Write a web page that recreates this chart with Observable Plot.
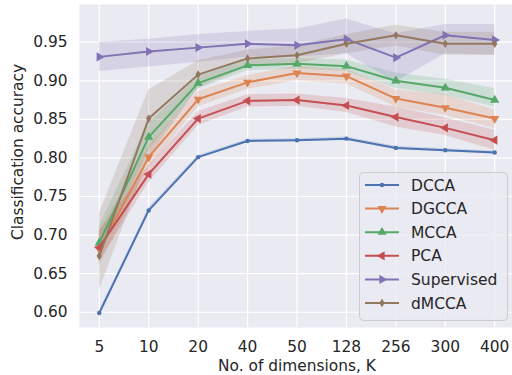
<!DOCTYPE html>
<html>
<head>
<meta charset="utf-8">
<script src="https://cdn.jsdelivr.net/npm/d3@7"></script>
<script src="https://cdn.jsdelivr.net/npm/@observablehq/plot@0.6"></script>
<style>
  html, body { margin: 0; padding: 0; background: #ffffff; }
  #chart { width: 512px; height: 375px; }
</style>
</head>
<body>
<div id="chart"></div>
<script>
// ---- Data ----
const dims = ["5", "10", "20", "40", "50", "128", "256", "300", "400"];
const methods = ["DCCA", "DGCCA", "MCCA", "PCA", "Supervised", "dMCCA"];
const colors = ["#4c72b0", "#dd8452", "#55a868", "#c44e52", "#8172b3", "#937860"];

const dcca       = [0.599, 0.732, 0.801, 0.822, 0.823, 0.825, 0.813, 0.810, 0.807];
const dccaLo     = [0.597, 0.729, 0.799, 0.820, 0.821, 0.823, 0.811, 0.808, 0.805];
const dccaHi     = [0.601, 0.735, 0.803, 0.824, 0.825, 0.827, 0.815, 0.812, 0.809];

const dgcca      = [0.682, 0.801, 0.876, 0.898, 0.910, 0.906, 0.877, 0.865, 0.851];
const dgccaLo    = [0.660, 0.787, 0.866, 0.889, 0.900, 0.896, 0.866, 0.855, 0.838];
const dgccaHi    = [0.705, 0.815, 0.886, 0.907, 0.919, 0.915, 0.888, 0.882, 0.862];

const mcca       = [0.690, 0.827, 0.897, 0.920, 0.922, 0.919, 0.900, 0.891, 0.875];
const mccaLo     = [0.672, 0.810, 0.889, 0.913, 0.915, 0.912, 0.890, 0.881, 0.866];
const mccaHi     = [0.712, 0.845, 0.905, 0.927, 0.929, 0.927, 0.910, 0.902, 0.890];

const pca        = [0.684, 0.779, 0.851, 0.874, 0.875, 0.868, 0.853, 0.839, 0.823];
const pcaLo      = [0.665, 0.768, 0.842, 0.866, 0.867, 0.859, 0.840, 0.829, 0.810];
const pcaHi      = [0.705, 0.790, 0.860, 0.882, 0.883, 0.877, 0.866, 0.852, 0.836];

const supervised   = [0.931, 0.938, 0.943, 0.948, 0.946, 0.954, 0.930, 0.959, 0.953];
const supervisedLo = [0.912, 0.918, 0.924, 0.931, 0.931, 0.935, 0.898, 0.935, 0.933];
const supervisedHi = [0.950, 0.954, 0.960, 0.964, 0.967, 0.980, 0.961, 0.973, 0.973];

const dmcca      = [0.673, 0.851, 0.908, 0.929, 0.933, 0.948, 0.959, 0.948, 0.948];
const dmccaLo    = [0.628, 0.800, 0.890, 0.918, 0.922, 0.935, 0.945, 0.933, 0.933];
const dmccaHi    = [0.728, 0.888, 0.926, 0.940, 0.945, 0.960, 0.972, 0.963, 0.963];

const yTicks = [0.60, 0.65, 0.70, 0.75, 0.80, 0.85, 0.90, 0.95];

// ---- Build table ----
const seriesVals = [dcca, dgcca, mcca, pca, supervised, dmcca];
const seriesLo = [dccaLo, dgccaLo, mccaLo, pcaLo, supervisedLo, dmccaLo];
const seriesHi = [dccaHi, dgccaHi, mccaHi, pcaHi, supervisedHi, dmccaHi];
const rows = [];
methods.forEach((m, k) => {
  dims.forEach((d, i) => {
    rows.push({method: m, i, v: seriesVals[k][i], lo: seriesLo[k][i], hi: seriesHi[k][i]});
  });
});

// thin diamond symbol (matplotlib 'd')
const thinDiamond = {
  draw(ctx, size) {
    const r = Math.sqrt(size / Math.PI);
    const h = r * 1.2, w = h * 0.62;
    ctx.moveTo(0, -h); ctx.lineTo(w, 0); ctx.lineTo(0, h); ctx.lineTo(-w, 0); ctx.closePath();
  }
};
const markerSpec = {
  DCCA:       {symbol: "circle", rotate: 0, r: 2.2},
  DGCCA:      {symbol: "triangle", rotate: 180, r: 3.4},
  MCCA:       {symbol: "triangle", rotate: 0, r: 3.4},
  PCA:        {symbol: "triangle", rotate: -90, r: 3.4},
  Supervised: {symbol: "triangle", rotate: 90, r: 3.4},
  dMCCA:      {symbol: thinDiamond, rotate: 0, r: 3.6}
};

const FS = 15.4;
const marks = [
  Plot.frame({fill: "#eaeaf2", stroke: null}),
  Plot.gridX(d3.range(dims.length), {stroke: "#ffffff", strokeOpacity: 1, strokeWidth: 1.2}),
  Plot.gridY(yTicks, {stroke: "#ffffff", strokeOpacity: 1, strokeWidth: 1.2}),
];
methods.forEach((m, k) => {
  const data = rows.filter(r => r.method === m);
  marks.push(Plot.areaY(data, {x: "i", y1: "lo", y2: "hi", fill: colors[k], fillOpacity: 0.2}));
});
methods.forEach((m, k) => {
  const data = rows.filter(r => r.method === m);
  const ms = markerSpec[m];
  marks.push(Plot.line(data, {x: "i", y: "v", stroke: colors[k], strokeWidth: 2}));
  marks.push(Plot.dot(data, {x: "i", y: "v", fill: colors[k], stroke: "none", r: ms.r, symbol: ms.symbol, rotate: ms.rotate}));
});
marks.push(Plot.axisX(d3.range(dims.length), {tickFormat: i => dims[i], tickSize: 0, tickPadding: 14, fontSize: FS, label: null}));
marks.push(Plot.axisY(yTicks, {tickFormat: d3.format(".2f"), tickSize: 0, tickPadding: 12, fontSize: FS, label: null}));

const chart = Plot.plot({
  width: 512,
  height: 375,
  marginLeft: 79,
  marginRight: 0,
  marginTop: 4,
  marginBottom: 48,
  x: {type: "linear", domain: [-0.4, 8.36]},
  y: {domain: [0.5802, 0.9989]},
  style: {fontFamily: "DejaVu Sans", fontSize: FS + "px", color: "#262626", background: "transparent"},
  marks
});
document.getElementById("chart").appendChild(chart);

// ---- Axis titles and legend ----
const svg = d3.select(chart);
svg.append("text")
  .attr("transform", "translate(23,152) rotate(-90)")
  .attr("text-anchor", "middle")
  .attr("fill", "#262626")
  .style("font-size", FS + "px")
  .text("Classification accuracy");
svg.append("text")
  .attr("x", 297).attr("y", 370.5)
  .attr("text-anchor", "middle")
  .attr("fill", "#262626")
  .style("font-size", FS + "px")
  .text("No. of dimensions, K");

const lg = svg.append("g");
lg.append("rect")
  .attr("x", 359.5).attr("y", 172.5).attr("width", 148).attr("height", 148).attr("rx", 4)
  .attr("fill", "#eaeaf2").attr("fill-opacity", 0.8).attr("stroke", "#cccccc").attr("stroke-width", 1);
const symTypes = {circle: d3.symbolCircle, triangle: d3.symbolTriangle};
methods.forEach((m, k) => {
  const y = 185 + k * 23.6;
  lg.append("line").attr("x1", 365).attr("x2", 399).attr("y1", y).attr("y2", y)
    .attr("stroke", colors[k]).attr("stroke-width", 2);
  const ms = markerSpec[m];
  const type = typeof ms.symbol === "string" ? symTypes[ms.symbol] : ms.symbol;
  lg.append("path")
    .attr("d", d3.symbol(type, ms.r * ms.r * Math.PI)())
    .attr("transform", `translate(382,${y}) rotate(${ms.rotate})`)
    .attr("fill", colors[k]);
  lg.append("text").attr("x", 411).attr("y", y).attr("dy", "0.36em")
    .attr("text-anchor", "start")
    .attr("fill", "#262626").style("font-size", "15.5px").text(m);
});
</script>
</body>
</html>
